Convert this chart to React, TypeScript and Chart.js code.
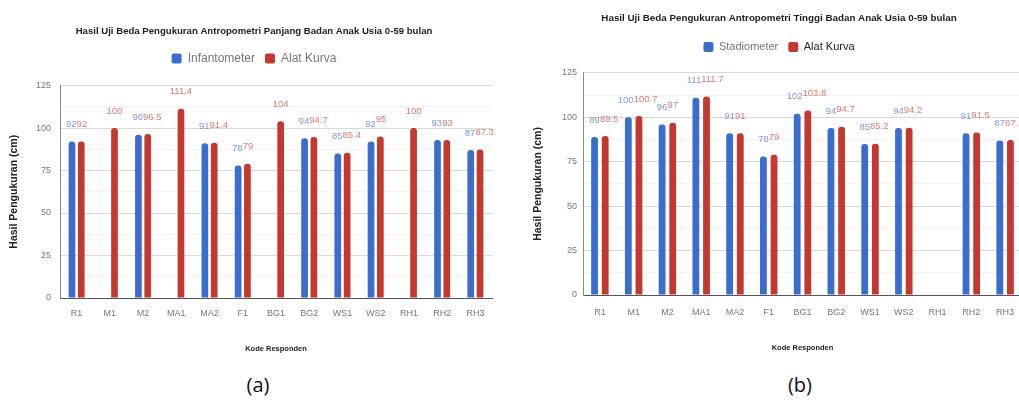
import React, { useEffect, useRef } from 'react';
import { Chart, registerables } from 'chart.js';

Chart.register(...registerables);

// ---------- data ----------
const categories = ['R1', 'M1', 'M2', 'MA1', 'MA2', 'F1', 'BG1', 'BG2', 'WS1', 'WS2', 'RH1', 'RH2', 'RH3'];

// (a) Panjang Badan
const infantometer = [92, null, 96, null, 91, 78, null, 94, 85, 92, null, 93, 87];
const alatKurvaPanjang = [92, 100, 96.5, 111.4, 91.4, 79, 104, 94.7, 85.4, 95, 100, 93, 87.3];

// (b) Tinggi Badan
const stadiometer = [89, 100, 96, 111, 91, 78, 102, 94, 85, 94, null, 91, 87];
const alatKurvaTinggi = [89.5, 100.7, 97, 111.7, 91, 79, 103.8, 94.7, 85.2, 94.2, null, 91.5, 87.2];

const yMajorTicks = [0, 25, 50, 75, 100, 125];

const titleA = 'Hasil Uji Beda Pengukuran Antropometri Panjang Badan Anak Usia 0-59 bulan';
const titleB = 'Hasil Uji Beda Pengukuran Antropometri Tinggi Badan Anak Usia 0-59 bulan';
const seriesNamesA = ['Infantometer', 'Alat Kurva'];
const seriesNamesB = ['Stadiometer', 'Alat Kurva'];
const xTitle = 'Kode Responden';
const yTitle = 'Hasil Pengukuran (cm)';

// ---------- styles ----------
const FONT = "'Liberation Sans', Arial, sans-serif";
const BLUE = '#3a6dce';
const RED = '#c4392f';
const BLUE_LABEL = '#7f9bd8';
const RED_LABEL = '#de7a72';

const legendGapPlugin = {
  id: 'legendGap',
  beforeUpdate(chart: any, _args: any, opts: any) {
    const lg = chart.legend;
    if (lg && !lg.__gapPatched) {
      const orig = lg.fit;
      lg.fit = function () {
        orig.call(this);
        this.height += (opts && opts.extra) || 0;
      };
      lg.__gapPatched = true;
    }
  },
};

// value annotations: centred on a lone bar, side by side when both bars exist
const barLabelsPlugin = {
  id: 'barLabels',
  afterDatasetsDraw(chart: any, _args: any, opts: any) {
    const ctx = chart.ctx;
    const ds0 = chart.data.datasets[0].data;
    const ds1 = chart.data.datasets[1].data;
    const m0 = chart.getDatasetMeta(0);
    const m1 = chart.getDatasetMeta(1);
    const xScale = chart.scales.x;
    ctx.save();
    ctx.font = `${opts.size}px ${FONT}`;
    ctx.textBaseline = 'middle';
    for (let j = 0; j < ds0.length; j++) {
      const a = ds0[j];
      const b = ds1[j];
      const cx = xScale.getPixelForValue(j);
      const both = a !== null && a !== undefined && b !== null && b !== undefined;
      if (a !== null && a !== undefined) {
        const el = m0.data[j];
        ctx.fillStyle = opts.colors[0];
        ctx.textAlign = both ? 'right' : 'center';
        ctx.fillText(String(a), both ? cx : el.x, el.y - opts.offset);
      }
      if (b !== null && b !== undefined) {
        const el = m1.data[j];
        ctx.fillStyle = opts.colors[1];
        ctx.textAlign = both ? 'left' : 'center';
        ctx.fillText(String(b), both ? cx : el.x, el.y - opts.offset);
      }
    }
    ctx.restore();
  },
};

type Panel = {
  title: string;
  names: string[];
  series: (number | null)[][];
  width: number;
  height: number;
  titleFont: number;
  titlePad: { top: number; bottom: number };
  legendFont: number;
  legendColors: string[];
  legendGap: number;
  yWidth: number;
  yTickPad: number;
  yTitlePad: number;
  xHeight: number;
  xTickPad: number;
  xTitlePad: number;
  rightWidth: number;
  catPct: number;
  barPct: number;
};

function buildConfig(p: Panel): any {
  const colors = [BLUE, RED];
  return {
    type: 'bar',
    data: {
      labels: categories,
      datasets: p.series.map((d, i) => ({
        label: p.names[i],
        data: d,
        backgroundColor: colors[i],
        borderWidth: 0,
        borderRadius: 3,
        borderSkipped: 'start',
        categoryPercentage: p.catPct,
        barPercentage: p.barPct,
        yAxisID: 'y',
      })),
    },
    options: {
      responsive: false,
      animation: false,
      devicePixelRatio: 1,
      layout: { padding: 0 },
      plugins: {
        title: {
          display: true,
          text: p.title,
          color: '#222',
          font: { family: FONT, size: p.titleFont, weight: 'bold' },
          padding: p.titlePad,
        },
        legend: {
          display: true,
          position: 'top',
          labels: {
            boxWidth: 10,
            boxHeight: 10,
            padding: 10,
            useBorderRadius: true,
            borderRadius: 2,
            font: { family: FONT, size: p.legendFont },
            generateLabels: (chart: any) => {
              const items = (Chart.defaults as any).plugins.legend.labels.generateLabels(chart);
              items.forEach((it: any, i: number) => {
                it.fontColor = p.legendColors[i];
                it.lineWidth = 0;
              });
              return items;
            },
          },
        },
        tooltip: { enabled: false },
        legendGap: { extra: p.legendGap },
        barLabels: { size: 9.5, offset: 17, colors: [BLUE_LABEL, RED_LABEL] },
      },
      scales: {
        x: {
          type: 'category',
          grid: { display: false, drawTicks: false },
          border: { display: true, color: '#555', width: 1 },
          ticks: {
            color: '#777',
            font: { family: FONT, size: 9 },
            padding: p.xTickPad,
            autoSkip: false,
            maxRotation: 0,
          },
          title: {
            display: true,
            text: xTitle,
            color: '#222',
            font: { family: FONT, size: 7.5, weight: 'bold' },
            padding: { top: 0, bottom: p.xTitlePad },
          },
          afterFit: (s: any) => {
            s.height = p.xHeight;
          },
        },
        y: {
          type: 'linear',
          position: 'left',
          min: 0,
          max: 125,
          grid: {
            drawTicks: false,
            color: (c: any) =>
              c.tick && yMajorTicks.includes(c.tick.value) ? '#d9d9d9' : '#f2f2f2',
          },
          border: { display: true, color: '#8a8a8a' },
          ticks: {
            stepSize: 12.5,
            color: '#777',
            font: { family: FONT, size: 9 },
            padding: p.yTickPad,
            callback: (v: any) => (yMajorTicks.includes(v) ? String(v) : ''),
          },
          title: {
            display: true,
            text: yTitle,
            color: '#222',
            font: { family: FONT, size: 10.5, weight: 'bold' },
            padding: { top: p.yTitlePad, bottom: 0 },
          },
          afterFit: (s: any) => {
            s.width = p.yWidth;
          },
        },
        yRight: {
          type: 'linear',
          axis: 'y',
          position: 'right',
          display: true,
          grid: { display: false, drawTicks: false },
          border: { display: false },
          ticks: { display: false },
          afterFit: (s: any) => {
            s.width = p.rightWidth;
          },
        },
      },
    },
    plugins: [legendGapPlugin, barLabelsPlugin],
  };
}

const panelA: Panel = {
  title: titleA,
  names: seriesNamesA,
  series: [infantometer, alatKurvaPanjang],
  width: 508,
  height: 360,
  titleFont: 9.6,
  titlePad: { top: 25.7, bottom: 5.3 },
  legendFont: 12,
  legendColors: ['#777', '#777'],
  legendGap: 11,
  yWidth: 60,
  yTickPad: 9,
  yTitlePad: 7.7,
  xHeight: 62,
  xTickPad: 10,
  xTitlePad: 7,
  rightWidth: 16,
  catPct: 0.56,
  barPct: 0.72,
};

const panelB: Panel = {
  title: titleB,
  names: seriesNamesB,
  series: [stadiometer, alatKurvaTinggi],
  width: 510,
  height: 360,
  titleFont: 9.8,
  titlePad: { top: 12.1, bottom: 7.6 },
  legendFont: 11,
  legendColors: ['#777', '#222'],
  legendGap: 10.5,
  yWidth: 59,
  yTickPad: 6,
  yTitlePad: 7.7,
  xHeight: 65,
  xTickPad: 12,
  xTitlePad: 8,
  rightWidth: 12,
  catPct: 0.63,
  barPct: 0.64,
};

function ChartPanel({ panel, left }: { panel: Panel; left: number }) {
  const ref = useRef<HTMLCanvasElement>(null);
  useEffect(() => {
    const chart = new Chart(ref.current as HTMLCanvasElement, buildConfig(panel));
    return () => chart.destroy();
  }, []);
  return (
    <canvas
      ref={ref}
      width={panel.width}
      height={panel.height}
      style={{ position: 'absolute', left, top: 0, width: panel.width, height: panel.height }}
    />
  );
}

const captionStyle: React.CSSProperties = {
  position: 'absolute',
  top: 371,
  width: 100,
  textAlign: 'center',
  fontFamily: "'Open Sans', 'Noto Sans', sans-serif",
  fontSize: 20,
  lineHeight: '28px',
  color: '#111',
};

export default function App() {
  return (
    <div
      style={{
        position: 'fixed',
        left: 0,
        top: 0,
        width: 1019,
        height: 410,
        overflow: 'hidden',
        background: '#fff',
      }}
    >
      <ChartPanel panel={panelA} left={0} />
      <ChartPanel panel={panelB} left={524} />
      <div style={{ ...captionStyle, left: 208 }}>(a)</div>
      <div style={{ ...captionStyle, left: 750 }}>(b)</div>
    </div>
  );
}
